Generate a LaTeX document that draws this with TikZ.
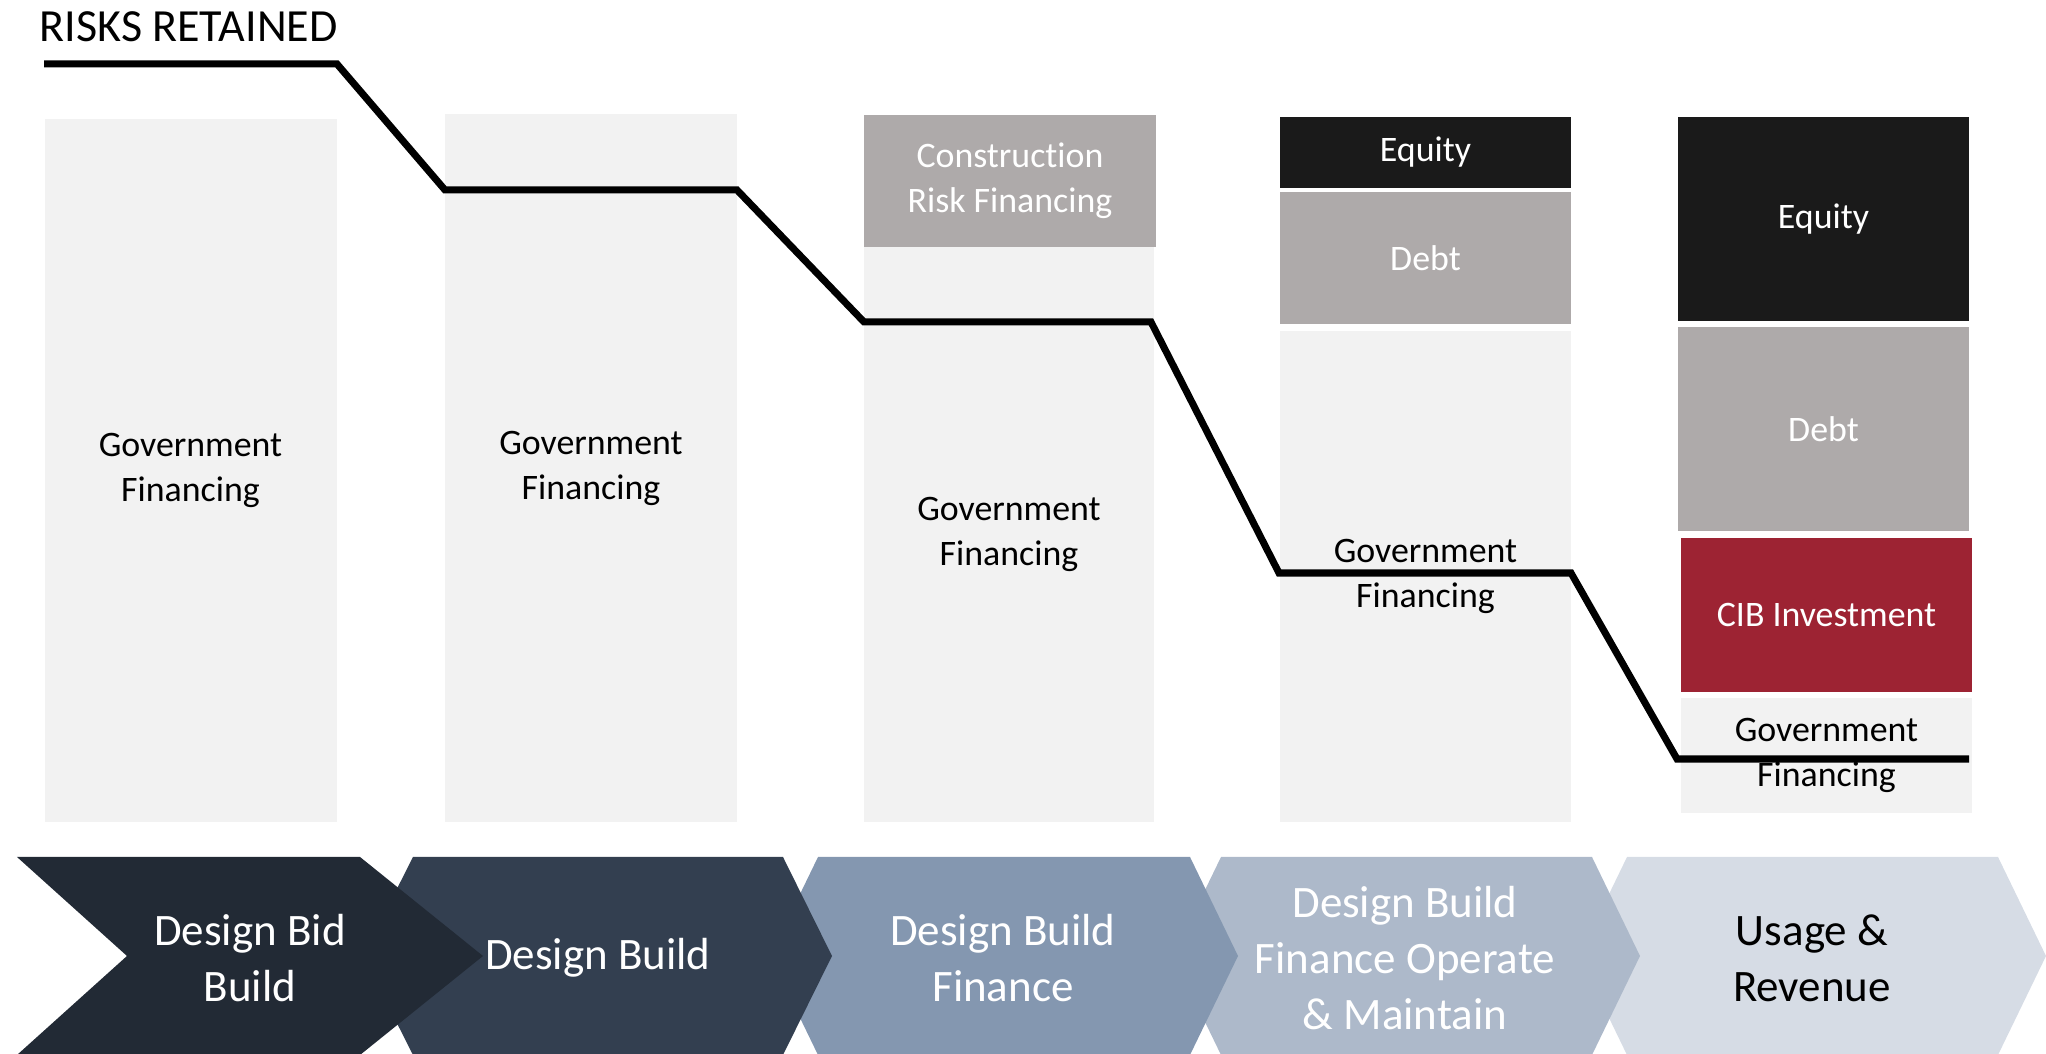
\documentclass[tikz,border=0pt]{standalone}
\usepackage{fontspec}
\setmainfont{Carlito}[Ligatures=NoCommon]
\usepackage{tikz}

\definecolor{boxlight}{HTML}{F2F2F2}
\definecolor{boxgray}{HTML}{AEAAAA}
\definecolor{boxblack}{HTML}{1A1A1A}
\definecolor{boxred}{HTML}{9D2333}
\definecolor{chevA}{HTML}{222A35}
\definecolor{chevB}{HTML}{333F50}
\definecolor{chevC}{HTML}{8497B0}
\definecolor{chevD}{HTML}{ADB9CA}
\definecolor{chevE}{HTML}{D6DCE5}

\begin{document}
\begin{tikzpicture}[
  colbox/.style={rectangle,inner sep=0pt,minimum width=2.92cm,align=center,
    font=\fontsize{10.2}{12.8}\selectfont},
  govbox/.style={colbox,fill=boxlight,text=black},
  debtbox/.style={colbox,fill=boxgray,text=white},
  eqbox/.style={colbox,fill=boxblack,text=white},
  cibbox/.style={colbox,fill=boxred,text=white},
  chevtext/.style={align=center,font=\fontsize{12.8}{15.9}\selectfont}
]
\useasboundingbox (0,0) rectangle (20.46,10.54);

% Title
\node[anchor=base west,inner sep=0pt,font=\fontsize{13.1}{15}\selectfont] (title) at (0.39,10.12) {RISKS RETAINED};

% Column 1
\node[govbox,minimum height=7.03cm] (govA) at (1.905,5.835) {Government\\Financing};

% Column 2
\node[govbox,minimum height=7.08cm] (govB) at (5.91,5.86) {Government\\Financing};

% Column 3
\node[debtbox,minimum height=1.32cm] (constrC) at (10.10,8.73) {Construction\\Risk Financing};
\node[govbox,minimum width=2.90cm,minimum height=5.75cm] (govC) at (10.09,5.195) {Government\\Financing};

% Column 4
\node[eqbox,minimum width=2.91cm,minimum height=0.71cm] (eqD) at (14.255,9.015) {Equity};
\node[debtbox,minimum width=2.91cm,minimum height=1.32cm] (debtD) at (14.255,7.96) {Debt};
\node[govbox,minimum width=2.91cm,minimum height=4.91cm] (govD) at (14.255,4.775) {Government\\Financing};

% Column 5
\node[eqbox,minimum width=2.91cm,minimum height=2.04cm] (eqE) at (18.235,8.35) {Equity};
\node[debtbox,minimum width=2.91cm,minimum height=2.04cm] (debtE) at (18.235,6.25) {Debt};
\node[cibbox,minimum width=2.91cm,minimum height=1.54cm] (cibE) at (18.265,4.39) {CIB Investment};
\node[govbox,minimum width=2.91cm,minimum height=1.15cm] (govE) at (18.265,2.985) {Government\\Financing};

% Risk line
\coordinate (r1) at (0.44,9.90);
\coordinate (r2) at (3.37,9.90);
\coordinate (r3) at (4.45,8.64);
\coordinate (r4) at (7.37,8.64);
\coordinate (r5) at (8.64,7.32);
\coordinate (r6) at (11.51,7.32);
\coordinate (r7) at (12.79,4.81);
\coordinate (r8) at (15.71,4.81);
\coordinate (r9) at (16.77,2.95);
\coordinate (r10) at (19.69,2.95);
\draw[line width=2pt] (r1) -- (r2) -- (r3) -- (r4) -- (r5) -- (r6) -- (r7) -- (r8) -- (r9) -- (r10);

% Delivery models (back to front)
\fill[chevE] (15.79,0.98) -- (16.27,1.97) -- (19.98,1.97) -- (20.46,0.98) -- (19.98,-0.01) -- (16.27,-0.01) -- cycle;
\fill[chevD] (11.73,0.98) -- (12.21,1.97) -- (15.92,1.97) -- (16.40,0.98) -- (15.92,-0.01) -- (12.21,-0.01) -- cycle;
\fill[chevC] (7.70,0.98) -- (8.18,1.97) -- (11.90,1.97) -- (12.38,0.98) -- (11.90,-0.01) -- (8.18,-0.01) -- cycle;
\fill[chevB] (3.63,0.98) -- (4.13,1.97) -- (7.83,1.97) -- (8.32,0.98) -- (7.83,-0.01) -- (4.13,-0.01) -- cycle;
\fill[chevA] (0.17,1.97) -- (3.60,1.97) -- (4.83,0.98) -- (3.60,-0.01) -- (0.17,-0.01) -- (1.27,0.98) -- cycle;

\node[chevtext,text=white] (dbb) at (2.50,0.96) {Design Bid\\Build};
\node[chevtext,text=white] (db) at (5.98,0.96) {Design Build};
\node[chevtext,text=white] (dbf) at (10.03,0.96) {Design Build\\Finance};
\node[chevtext,text=white] (dbfom) at (14.05,0.96) {Design Build\\Finance Operate\\\& Maintain};
\node[chevtext,text=black] (usage) at (18.12,0.96) {Usage \&\\Revenue};
\end{tikzpicture}
\end{document}
